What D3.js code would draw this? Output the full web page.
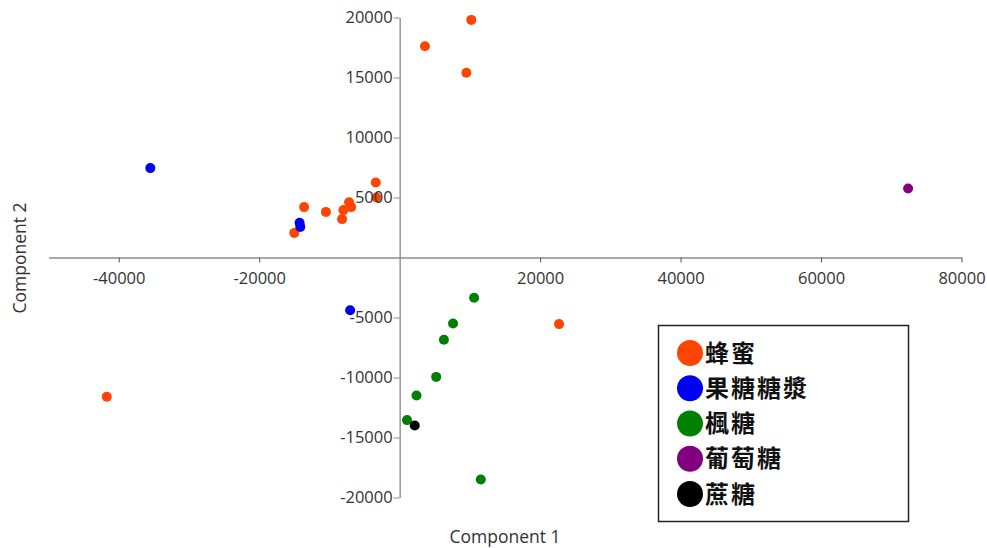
<!DOCTYPE html>
<html><head><meta charset="utf-8">
<script src="https://cdn.jsdelivr.net/npm/d3@7"></script>
<style>body{margin:0;background:#fff}svg{display:block}</style>
</head><body><svg id="c" width="987" height="548"></svg>
<script>
const categories = ["蜂蜜","果糖糖漿","楓糖","葡萄糖","蔗糖"];
const colors = ["#FF4500","#0000F0","#008000","#800080","#000000"];
const honey = [[10200,19800],[3600,17600],[9500,15400],[-3400,6250],[-3300,5000],[-13600,4200],[-10500,3800],[-8200,3200],[-8000,3950],[-7200,4600],[-6900,4200],[-15000,2050],[22700,-5550],[-41700,-11600]];
const fructose = [[-35500,7450],[-14250,2900],[-14150,2550],[-7050,-4400]];
const maple = [[10600,-3350],[7600,-5500],[6300,-6850],[5200,-9950],[2400,-11500],[1050,-13550],[11550,-18500]];
const glucose = [[72400,5750]];
const sucrose = [[2150,-14000]];
const xTicks = [-40000,-20000,20000,40000,60000,80000];
const yTicks = [20000,15000,10000,5000,-5000,-10000,-15000,-20000];
const seriesValues = [honey, fructose, maple, glucose, sucrose];

const svg = d3.select("#c");
const x = d3.scaleLinear().domain([-50000,80000]).range([48.5,961.5]);
const y = d3.scaleLinear().domain([-20000,20000]).range([497.5,17.5]);
const font = "'Open Sans', sans-serif";
const fmt = d => String(d);

const gx = svg.append("g").attr("transform",`translate(0,${y(0)})`)
  .call(d3.axisBottom(x).tickValues(xTicks).tickFormat(fmt).tickSize(5).tickSizeOuter(0).tickPadding(10));
gx.select(".domain").attr("stroke","#555");
gx.selectAll(".tick line").attr("stroke","#555");
gx.selectAll("text").attr("font-family",font).attr("font-size","16.5px").attr("fill","#333");

const gy = svg.append("g").attr("transform",`translate(${x(0)},0)`)
  .call(d3.axisLeft(y).tickValues(yTicks).tickFormat(fmt).tickSize(6).tickSizeOuter(0).tickPadding(1));
gy.select(".domain").attr("stroke","#888").attr("stroke-width",1.3);
gy.selectAll(".tick line").attr("stroke","#888");
gy.selectAll("text").attr("font-family",font).attr("font-size","16.5px").attr("fill","#333");

seriesValues.forEach((pts,i)=>{
  svg.append("g").selectAll("circle").data(pts).join("circle")
    .attr("cx",d=>x(d[0])).attr("cy",d=>y(d[1])).attr("r",5)
    .attr("fill",colors[i]);
});
gy.raise();

svg.append("text").attr("x",505).attr("y",543).attr("text-anchor","middle")
  .attr("font-family",font).attr("font-size","17.5px").attr("fill","#333").text("Component 1");
svg.append("text").attr("transform","translate(26,258) rotate(-90)").attr("text-anchor","middle")
  .attr("font-family",font).attr("font-size","17.5px").attr("fill","#333").text("Component 2");

const lg = svg.append("g");
lg.append("rect").attr("x",658.5).attr("y",325.5).attr("width",250).attr("height",196)
  .attr("fill","#fff").attr("stroke","#222").attr("stroke-width",1.5);
const ly = d3.scalePoint().domain(categories).range([353,494]);
categories.forEach((c,i)=>{
  lg.append("circle").attr("cx",690).attr("cy",ly(c)).attr("r",13).attr("fill",colors[i]);
  lg.append("text").attr("x",705).attr("y",ly(c)).attr("dy","0.36em")
    .attr("font-family","'Noto Sans CJK TC','Noto Sans CJK SC',sans-serif").attr("font-weight","bold")
    .attr("font-size","24px").attr("letter-spacing","2px").attr("fill","#111").text(c);
});
</script></body></html>
